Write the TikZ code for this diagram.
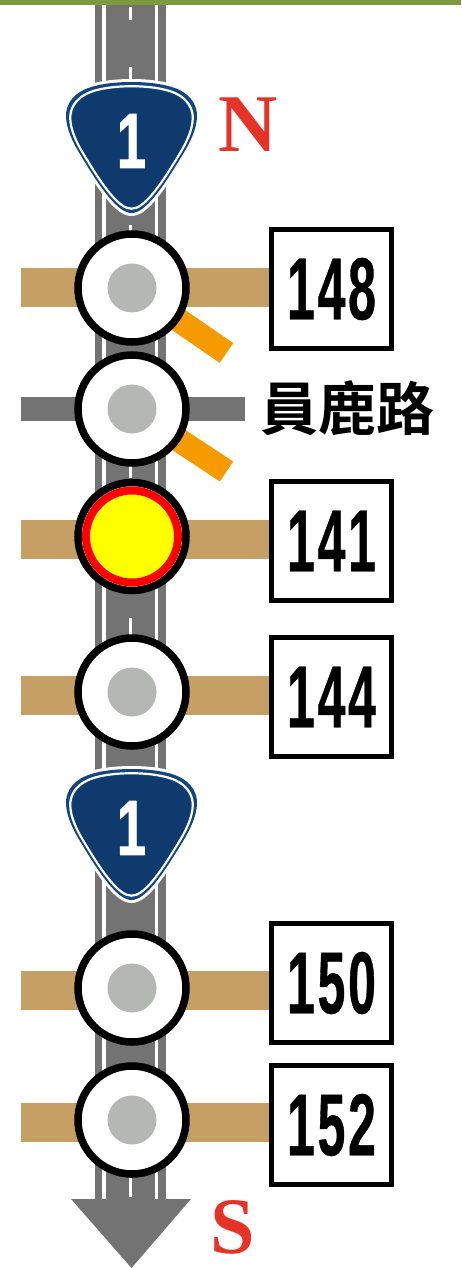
\documentclass[tikz,border=0pt]{standalone}
\usepackage{fontspec}
\setmainfont{Liberation Sans}
\newfontfamily\numfont[FakeStretch=0.57,FakeBold=0.4,LetterSpace=3]{Liberation Sans Bold}
\newfontfamily\onefont[FakeStretch=0.66,FakeBold=1.2]{Liberation Sans Bold}
\newfontfamily\cjkfont{Noto Sans CJK TC Bold}
\newfontfamily\dirfont{Liberation Serif Bold}
\definecolor{barGreen}{HTML}{7A9A3C}
\definecolor{roadGray}{HTML}{737373}
\definecolor{tanRoad}{HTML}{C59F63}
\definecolor{rampOrange}{HTML}{F59B00}
\definecolor{dotGray}{HTML}{B5B7B5}
\definecolor{shieldBlue}{HTML}{0F3A6E}
\definecolor{shieldEdge}{HTML}{134680}
\definecolor{dirRed}{HTML}{E63327}
\definecolor{pureRed}{HTML}{FF0000}
\definecolor{pureYellow}{HTML}{FFFF00}
\tikzset{
  x=1pt,y=-1pt,
  junction/.style={circle,draw=black,line width=7.5pt,fill=white,minimum size=108pt,inner sep=0pt},
  hub/.style={circle,fill=dotGray,minimum size=49pt,inner sep=0pt},
  thishub/.style={circle,draw=pureRed,line width=8pt,fill=pureYellow,minimum size=92pt,inner sep=0pt},
  numbox/.style={draw=black,line width=5pt,fill=white,minimum width=120pt,minimum height=119.5pt,inner sep=0pt,
    font=\numfont\fontsize{88}{88}\selectfont},
  tanbar/.style={draw=tanRoad,line width=39pt},
  graybar/.style={draw=roadGray,line width=24pt},
  ramp/.style={draw=rampOrange,line width=24pt},
  edgeline/.style={draw=white,line width=3.5pt},
  centerdash/.style={draw=white,line width=3pt},
  dirlabel/.style={text=dirRed,font=\dirfont\fontsize{#1}{#1}\selectfont,inner sep=0pt},
  signone/.style={text=white,inner sep=0pt,font=\onefont\fontsize{78}{78}\selectfont}
}
\newcommand{\shieldpath}{(0,-65) .. controls (20,-65) and (38,-62) .. (48,-57)
  .. controls (60,-51) and (66,-41) .. (65.5,-30)
  .. controls (65,-18) and (59,-5) .. (51,8)
  .. controls (43,21) and (33,38) .. (21,52)
  .. controls (14,60) and (7,66) .. (0,66)
  .. controls (-7,66) and (-14,60) .. (-21,52)
  .. controls (-33,38) and (-43,21) .. (-51,8)
  .. controls (-59,-5) and (-65,-18) .. (-65.5,-30)
  .. controls (-66,-41) and (-60,-51) .. (-48,-57)
  .. controls (-38,-62) and (-20,-65) .. (0,-65) -- cycle}
\newcommand{\shield}[3]{%
  \fill[white,draw=white,line width=6pt,shift={(#2,#3)}] \shieldpath;
  \fill[shieldEdge,shift={(#2,#3)}] \shieldpath;
  \draw[white,line width=2.2pt,shift={(#2,#3)},scale=0.935] \shieldpath;
  \fill[shieldBlue,shift={(#2,#3)},scale=0.905] \shieldpath;
  \node[signone] (#1) at (#2,#3-6) {1};}
\begin{document}
\begin{tikzpicture}
\useasboundingbox (0,0) rectangle (461,1268);
% top band
\fill[barGreen] (0,0) rectangle (461,5.5);
% main road
\coordinate (roadtop) at (130,5.5);
\coordinate (roadend) at (130,1200);
\draw[draw=roadGray,line width=71pt] (roadtop) -- (roadend);
\draw[edgeline] (104,5.5) -- (104,1199);
\draw[edgeline] (156.5,5.5) -- (156.5,1199);
\foreach \a/\b in {7/20,67/80,225/235,465/478,618/635,1178/1197}
  \draw[centerdash] (130,\a) -- (130,\b);
% arrow head
\fill[roadGray] (71,1199) -- (191,1199) -- (131.5,1268) -- cycle;
% interchange nodes
\coordinate (w1) at (21,287.5);
\coordinate (w2) at (21,409);
\coordinate (w3) at (21,539);
\coordinate (w4) at (21,695);
\coordinate (w5) at (21,990.5);
\coordinate (w6) at (21,1122.5);
\node[numbox] (b148) at (331.5,289) {148};
\node[numbox] (b141) at (331.5,541) {141};
\node[numbox] (b144) at (331.5,697) {144};
\node[numbox] (b150) at (331.5,983) {150};
\node[numbox] (b152) at (331.5,1125) {152};
\coordinate (e2) at (245,409);
\draw[tanbar] (w1) -- (w1 -| b148.west);
\draw[graybar] (w2) -- (e2);
\draw[tanbar] (w3) -- (w3 -| b141.west);
\draw[tanbar] (w4) -- (w4 -| b144.west);
\draw[tanbar] (w5) -- (w5 -| b150.west);
\draw[tanbar] (w6) -- (w6 -| b152.west);
\coordinate (r1) at (226.5,353);
\coordinate (r2) at (226.5,471.5);
\coordinate (c1) at (132,288);
\coordinate (c2) at (132,409);
\draw[ramp] (c1) -- (r1);
\draw[ramp] (c2) -- (r2);
\node[junction] (j1) at (c1) {};
\node[hub] (h1) at (c1) {};
\node[junction] (j2) at (c2) {};
\node[hub] (h2) at (c2) {};
\node[junction] (j3) at (132,536.5) {};
\node[thishub] (h3) at (j3) {};
\node[junction] (j4) at (132,692) {};
\node[hub] (h4) at (j4) {};
\node[junction] (j5) at (132,988) {};
\node[hub] (h5) at (j5) {};
\node[junction] (j6) at (132,1120) {};
\node[hub] (h6) at (j6) {};
\shield{s1}{131.5}{147}
\shield{s2}{131.5}{834}
\node[dirlabel=82] (north) at (248,125) {N};
\node[dirlabel=80] (south) at (233,1227) {S};
\node[font=\cjkfont\fontsize{58}{58}\selectfont,inner sep=0pt] (rd) at (347,408) {員鹿路};
\end{tikzpicture}
\end{document}
